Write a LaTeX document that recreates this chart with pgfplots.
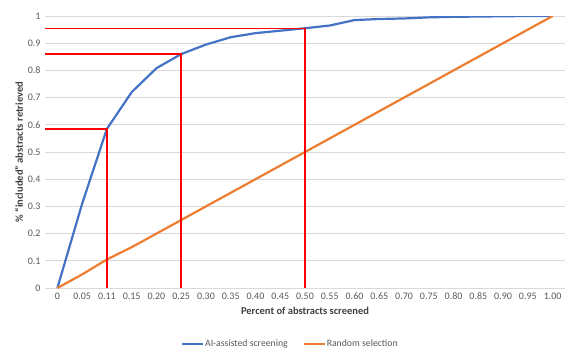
\documentclass[border=0pt]{standalone}
\usepackage{pgfplots}
\pgfplotsset{compat=1.18}
\usepackage{fontspec}
\setmainfont{Carlito}
\definecolor{aiblue}{HTML}{4472C4}
\definecolor{rndorange}{HTML}{ED7D31}
\definecolor{gridgray}{HTML}{D9D9D9}
\definecolor{ticktext}{HTML}{595959}
\definecolor{labeltext}{HTML}{404040}
\begin{document}
\begin{tikzpicture}[x=1pt,y=1pt]
\begin{axis}[
  at={(0,0)}, anchor=south west,
  scale only axis, width=520pt, height=272pt,
  xmin=-0.5, xmax=20.5, ymin=0, ymax=1,
  axis line style={draw=none},
  major tick style={draw=none},
  ytick={0,0.1,...,1.0},
  yticklabels={0,0.1,0.2,0.3,0.4,0.5,0.6,0.7,0.8,0.9,1},
  xtick={0,...,20},
  xticklabels={0,0.05,0.11,0.15,0.20,0.25,0.30,0.35,0.40,0.45,0.50,0.55,0.60,0.65,0.70,0.75,0.80,0.85,0.90,0.95,1.00},
  ymajorgrids, grid style={gridgray, line width=0.8pt},
  /pgf/number format/assume math mode=true,
  tick label style={font=\fontsize{10}{12}\selectfont, text=ticktext},
  xticklabel style={yshift=-1pt},
  yticklabel style={xshift=-1pt},
  xlabel={\textbf{Percent of abstracts screened}},
  ylabel={\textbf{\% “included” abstracts retrieved}},
  label style={font=\fontsize{10.5}{12}\selectfont, text=labeltext},
  xlabel style={yshift=-1pt},
  ylabel style={yshift=-2pt},
  legend style={at={(0.471,-0.205)}, anchor=center, draw=none, legend columns=2,
    font=\fontsize{9.75}{11}\selectfont, text=ticktext,
    nodes={inner sep=1pt},
    /tikz/every even column/.append style={column sep=14pt}},
  legend image code/.code={\draw[#1, line width=2pt] (0pt,0pt) -- (21pt,0pt);},
]
\addplot[aiblue, line width=2.2pt, line join=round] coordinates {
(0,0) (1,0.31) (2,0.585) (3,0.72) (4,0.808) (5,0.86) (6,0.895) (7,0.922) (8,0.937) (9,0.946) (10,0.955) (11,0.965) (12,0.985) (13,0.989) (14,0.991) (15,0.995) (16,0.997) (17,0.998) (18,0.999) (19,1.0) (20,1.0)};
\addlegendentry{AI-assisted screening}
\addplot[rndorange, line width=2.2pt, line join=round] coordinates {
(0,0) (1,0.05) (2,0.105) (3,0.15) (4,0.20) (5,0.25) (6,0.30) (7,0.35) (8,0.40) (9,0.45) (10,0.50) (11,0.55) (12,0.60) (13,0.65) (14,0.70) (15,0.75) (16,0.80) (17,0.85) (18,0.90) (19,0.95) (20,1.0)};
\addlegendentry{Random selection}
\addplot[red, line width=1.4pt, forget plot] coordinates {(-0.5,0.585) (2,0.585) (2,0)};
\addplot[red, line width=1.4pt, forget plot] coordinates {(-0.5,0.86) (5,0.86) (5,0)};
\addplot[red, line width=1.4pt, forget plot] coordinates {(-0.5,0.955) (10,0.955) (10,0)};
\end{axis}
\pgfresetboundingbox
\path[use as bounding box] (-45,-72) rectangle (535,288);
\end{tikzpicture}
\end{document}
